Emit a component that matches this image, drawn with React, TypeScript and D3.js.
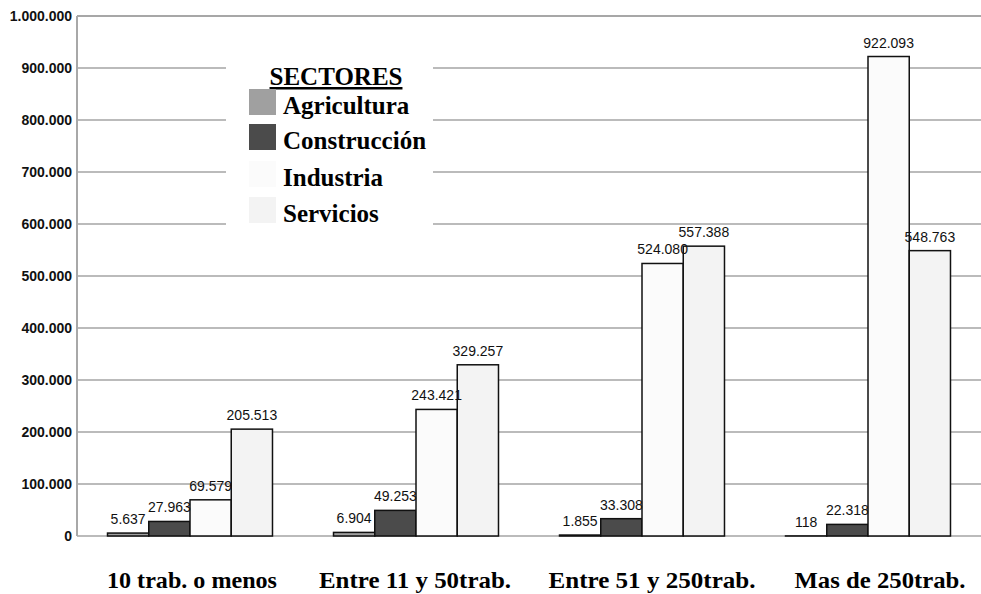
import React from "react";
import * as d3 from "d3";

const categories = ["10 trab. o menos", "Entre 11 y 50trab.", "Entre 51 y 250trab.", "Mas de 250trab."];
const series = ["Agricultura", "Construcción", "Industria", "Servicios"];
const agricultura = [5637, 6904, 1855, 118];
const construccion = [27963, 49253, 33308, 22318];
const industria = [69579, 243421, 524080, 922093];
const servicios = [205513, 329257, 557388, 548763];
const yTicks = [0, 100000, 200000, 300000, 400000, 500000, 600000, 700000, 800000, 900000, 1000000];
const colors = ["#a0a0a0", "#4b4b4b", "#fbfbfb", "#f3f3f3"];
const legendTitle = "SECTORES";

const W = 981;
const H = 594;
const M = { left: 77, right: 981, top: 16, bottom: 536 };

// label style tweaks (width of rendered text, horizontal nudge)
const catLabelWidth = [170, 192, 207, 171];
const catLabelDx = [2, -1, 10, 12];

const fmt = (v: number) => {
  const s = Math.round(v).toString();
  return s.replace(/\B(?=(\d{3})+(?!\d))/g, ".");
};

export default function App() {
  const values = [agricultura, construccion, industria, servicios];
  const y = d3.scaleLinear().domain([0, 1000000]).range([M.bottom, M.top]);
  const x0 = d3
    .scaleBand<string>()
    .domain(categories)
    .range([M.left, M.right])
    .paddingInner(0.27)
    .paddingOuter(0.135);
  const x1 = d3.scaleBand<string>().domain(series).range([0, x0.bandwidth()]).padding(0);

  const legendX = 249;
  const legendY = [89, 124, 161, 197];

  return (
    <svg
      width={W}
      height={H}
      style={{ position: "absolute", left: 0, top: 0, display: "block", background: "#fff" }}
    >
      {yTicks.map((t) => (
        <line
          key={"g" + t}
          x1={M.left}
          x2={M.right}
          y1={y(t)}
          y2={y(t)}
          stroke={t === 1000000 ? "#8a8a8a" : "#a4a4a4"}
          strokeWidth={1.5}
        />
      ))}
      <line x1={M.left} x2={M.left} y1={M.top} y2={M.bottom} stroke="#a8a8a8" strokeWidth={2} />
      {yTicks.map((t) => (
        <text
          key={"t" + t}
          x={72}
          y={y(t)}
          dy="0.35em"
          textAnchor="end"
          fontFamily="Liberation Sans, Arial, sans-serif"
          fontSize={14}
          fontWeight="bold"
          fill="#111"
        >
          {fmt(t)}
        </text>
      ))}
      <rect x={226} y={55} width={207} height={175} fill="#fff" />
      <text
        x={336}
        y={85}
        textAnchor="middle"
        fontFamily="Liberation Serif, Times New Roman, serif"
        fontWeight="bold"
        fontSize={25}
        textDecoration="underline"
        fill="#000"
      >
        {legendTitle}
      </text>
      {series.map((s, i) => (
        <g key={"l" + s}>
          <rect x={legendX} y={legendY[i]} width={27} height={26} fill={colors[i]} />
          <text
            x={283}
            y={legendY[i] + 25}
            fontFamily="Liberation Serif, Times New Roman, serif"
            fontWeight="bold"
            fontSize={25}
            fill="#000"
          >
            {s}
          </text>
        </g>
      ))}
      {categories.map((c, ci) => (
        <g key={"c" + c} transform={`translate(${x0(c)},0)`}>
          {series.map((s, si) => {
            const v = values[si][ci];
            return (
              <rect
                key={"b" + s}
                x={x1(s)!}
                y={y(v)}
                width={x1.bandwidth()}
                height={y(0) - y(v)}
                fill={colors[si]}
                stroke="#111"
                strokeWidth={1.5}
              />
            );
          })}
          {series.map((s, si) => {
            const v = values[si][ci];
            return (
              <text
                key={"v" + s}
                x={x1(s)! + x1.bandwidth() / 2}
                y={y(v) - 9}
                textAnchor="middle"
                fontFamily="Liberation Sans, Arial, sans-serif"
                fontSize={14}
                fill="#111"
              >
                {fmt(v)}
              </text>
            );
          })}
        </g>
      ))}
      {categories.map((c, ci) => (
        <text
          key={"x" + c}
          x={x0(c)! + x0.bandwidth() / 2 + catLabelDx[ci]}
          y={588}
          textAnchor="middle"
          fontFamily="Liberation Serif, Times New Roman, serif"
          fontWeight="bold"
          fontSize={24}
          textLength={catLabelWidth[ci]}
          lengthAdjust="spacingAndGlyphs"
          fill="#000"
        >
          {c}
        </text>
      ))}
    </svg>
  );
}
